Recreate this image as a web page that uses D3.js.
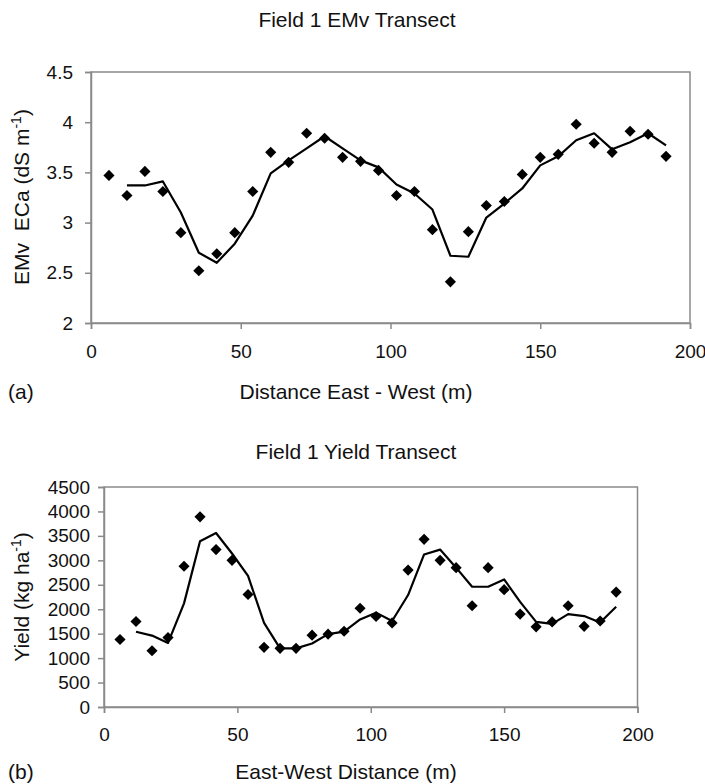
<!DOCTYPE html>
<html>
<head>
<meta charset="utf-8">
<script src="https://cdn.jsdelivr.net/npm/d3@7"></script>
<style>
  body { margin: 0; background: #fff; }
  svg { display: block; font-family: "Liberation Sans", Arial, sans-serif; }
</style>
</head>
<body>
<svg id="chart" width="705" height="784"></svg>
<script>
// distances along the transect (m)
const pointDist = [6, 12, 18, 24, 30, 36, 42, 48, 54, 60, 66, 72, 78, 84, 90, 96,
  102, 108, 114, 120, 126, 132, 138, 144, 150, 156, 162, 168, 174, 180, 186, 192];
const lineDist = [12, 18, 24, 30, 36, 42, 48, 54, 60, 66, 72, 78, 84, 90, 96,
  102, 108, 114, 120, 126, 132, 138, 144, 150, 156, 162, 168, 174, 180, 186, 192];

// (a) EMv ECa, dS m-1
const emvPoints = [3.47, 3.27, 3.51, 3.31, 2.90, 2.52, 2.69, 2.90, 3.31, 3.70, 3.60, 3.89, 3.84, 3.65, 3.61, 3.52,
  3.27, 3.31, 2.93, 2.41, 2.91, 3.17, 3.21, 3.48, 3.65, 3.68, 3.98, 3.79, 3.70, 3.91, 3.88, 3.66];
const emvLine = [3.37, 3.37, 3.41, 3.10, 2.70, 2.60, 2.79, 3.07, 3.49, 3.62, 3.74, 3.86, 3.74, 3.62, 3.55,
  3.38, 3.29, 3.13, 2.67, 2.66, 3.05, 3.19, 3.34, 3.57, 3.66, 3.82, 3.89, 3.73, 3.80, 3.89, 3.77];

// (b) yield, kg ha-1
const yieldPoints = [1380, 1750, 1150, 1420, 2880, 3890, 3220, 3000, 2300, 1220, 1200, 1200, 1470, 1490, 1550, 2020,
  1850, 1720, 2800, 3430, 3000, 2850, 2070, 2850, 2400, 1900, 1640, 1740, 2070, 1650, 1760, 2350];
const yieldLine = [1540, 1460, 1310, 2120, 3390, 3560, 3140, 2680, 1720, 1200, 1200, 1300, 1490, 1540, 1790,
  1930, 1760, 2290, 3120, 3220, 2850, 2460, 2460, 2610, 2150, 1740, 1700, 1900, 1860, 1730, 2050];

const xTicks = [0, 50, 100, 150, 200];
const emvTicks = [2, 2.5, 3, 3.5, 4, 4.5];
const yieldTicks = [0, 500, 1000, 1500, 2000, 2500, 3000, 3500, 4000, 4500];

const svg = d3.select("#chart");
const frameColor = "#8a8a8a";

function drawPanel(cfg) {
  const x = d3.scaleLinear().domain([0, 200]).range([cfg.left, cfg.right]);
  const y = d3.scaleLinear().domain(cfg.yDomain).range([cfg.bottom, cfg.top]);
  const g = svg.append("g");

  // frame
  g.append("rect")
    .attr("x", cfg.left).attr("y", cfg.top)
    .attr("width", cfg.right - cfg.left).attr("height", cfg.bottom - cfg.top)
    .attr("fill", "none").attr("stroke", frameColor).attr("stroke-width", 1.5);

  const yAxis = g.append("g").attr("transform", "translate(" + cfg.left + ",0)")
    .call(d3.axisLeft(y).tickValues(cfg.yTicks).tickFormat(d => String(d))
      .tickSize(6).tickPadding(cfg.yPad));
  const xAxis = g.append("g").attr("transform", "translate(0," + cfg.bottom + ")")
    .call(d3.axisBottom(x).tickValues(xTicks).tickFormat(d => String(d))
      .tickSize(6).tickPadding(cfg.xPad));
  [yAxis, xAxis].forEach(a => {
    a.select(".domain").attr("stroke", frameColor).attr("stroke-width", 1.5);
    a.selectAll(".tick line").attr("stroke", frameColor).attr("stroke-width", 1.5);
    a.selectAll(".tick text").attr("fill", "#111").style("font-size", "19px")
      .style("font-family", "'Liberation Sans', Arial, sans-serif");
  });

  // smoothed line
  g.append("path")
    .datum(cfg.lineVals.map((v, i) => [lineDist[i], v]))
    .attr("fill", "none").attr("stroke", "#000").attr("stroke-width", 2.2)
    .attr("stroke-linejoin", "round")
    .attr("d", d3.line().x(d => x(d[0])).y(d => y(d[1])));

  // diamonds
  g.selectAll(".pt").data(cfg.pointVals).enter().append("path")
    .attr("class", "pt")
    .attr("d", d3.symbol().type(d3.symbolSquare).size(62))
    .attr("transform", (d, i) => "translate(" + x(pointDist[i]) + "," + y(d) + ") rotate(45)")
    .attr("fill", "#000");

  // titles
  g.append("text").attr("x", cfg.titleX).attr("y", cfg.titleY)
    .attr("text-anchor", "middle").style("font-size", "21px").attr("fill", "#111").text(cfg.title);
  g.append("text").attr("x", cfg.xTitleX).attr("y", cfg.xTitleY)
    .attr("text-anchor", "middle").style("font-size", "21px").attr("fill", "#111").text(cfg.xTitle);
  g.append("text").attr("x", 8).attr("y", cfg.xTitleY)
    .style("font-size", "21px").attr("fill", "#111").text(cfg.tag);

  const yt = g.append("text")
    .attr("transform", "translate(" + cfg.yTitleX + "," + cfg.yTitleY + ") rotate(-90)")
    .attr("text-anchor", "middle").style("font-size", "21px").attr("fill", "#111");
  yt.append("tspan").text(cfg.yTitle);
  yt.append("tspan").attr("baseline-shift", "super").style("font-size", "14px").text("-1");
  yt.append("tspan").text(")");
}

drawPanel({
  left: 91, right: 690, top: 72, bottom: 323,
  yDomain: [2, 4.5], yTicks: emvTicks, yPad: 12, xPad: 16,
  pointVals: emvPoints, lineVals: emvLine,
  title: "Field 1 EMv Transect", titleX: 357, titleY: 27,
  xTitle: "Distance East - West (m)", xTitleX: 356, xTitleY: 399,
  tag: "(a)",
  yTitle: "EMv\u00a0\u00a0ECa (dS m", yTitleX: 29, yTitleY: 197
});

drawPanel({
  left: 104, right: 637.5, top: 487, bottom: 707,
  yDomain: [0, 4500], yTicks: yieldTicks, yPad: 8, xPad: 15,
  pointVals: yieldPoints, lineVals: yieldLine,
  title: "Field 1 Yield Transect", titleX: 356, titleY: 459,
  xTitle: "East-West Distance (m)", xTitleX: 346, xTitleY: 779,
  tag: "(b)",
  yTitle: "Yield (kg ha", yTitleX: 29, yTitleY: 597
});
</script>
</body>
</html>
